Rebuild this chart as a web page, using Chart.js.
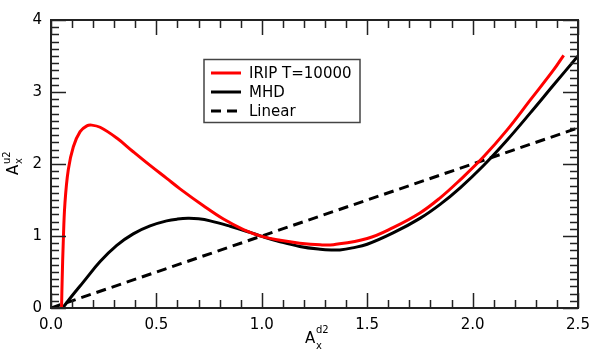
<!DOCTYPE html>
<html lang="en">
<head>
  <meta charset="UTF-8">
  <title>Ax u2 vs Ax d2</title>
  <style>
    html, body { margin: 0; padding: 0; background: #fff; }
    #wrap { width: 592px; height: 351px; }
  </style>
  <script src="https://cdn.jsdelivr.net/npm/chart.js@4.4.0/dist/chart.umd.min.js"></script>
</head>
<body>
  <div id="wrap"><canvas id="chart" width="592" height="351"></canvas></div>
  <script>
    // values
    const iripX = [0.05, 0.053, 0.058, 0.066, 0.082, 0.106, 0.138, 0.17, 0.193, 0.233, 0.312, 0.39, 0.47, 0.549, 0.612, 0.723, 0.818, 0.913, 1.0, 1.087, 1.18, 1.277, 1.34, 1.5, 1.625, 1.75, 1.846, 1.941, 2.052, 2.163, 2.274, 2.385, 2.432];
    const iripY = [0, 0.4, 0.9, 1.45, 1.92, 2.24, 2.45, 2.53, 2.54, 2.51, 2.36, 2.17, 1.98, 1.80, 1.655, 1.42, 1.235, 1.09, 0.995, 0.94, 0.90, 0.877, 0.88, 0.965, 1.12, 1.32, 1.53, 1.78, 2.10, 2.47, 2.89, 3.31, 3.51];
    const mhdX = [0.055, 0.1, 0.153, 0.233, 0.312, 0.39, 0.47, 0.549, 0.6, 0.65, 0.7, 0.755, 0.85, 0.944, 1.0, 1.087, 1.18, 1.277, 1.33, 1.37, 1.43, 1.5, 1.625, 1.75, 1.846, 1.941, 2.052, 2.163, 2.274, 2.385, 2.5];
    const mhdY = [0, 0.17, 0.36, 0.645, 0.87, 1.03, 1.14, 1.21, 1.235, 1.245, 1.238, 1.21, 1.135, 1.05, 0.995, 0.92, 0.855, 0.815, 0.805, 0.807, 0.835, 0.885, 1.046, 1.245, 1.44, 1.67, 1.98, 2.33, 2.71, 3.10, 3.50];
    const linX = [0, 2.5];
    const linY = [0, 2.5];
    const seriesNames = ['IRIP T=10000', 'MHD', 'Linear'];
    const xTickLabels = ['0.0', '0.5', '1.0', '1.5', '2.0', '2.5'];
    const yTickLabels = ['0', '1', '2', '3', '4'];

    const pts = (xs, ys) => xs.map((x, i) => ({ x: x, y: ys[i] }));
    const FONT = '"DejaVu Sans", sans-serif';

    // inside ticks on all four sides, frame, legend box and axis titles
    const decor = {
      id: 'decor',
      afterDraw(chart) {
        const ctx = chart.ctx;
        const a = chart.chartArea;
        const xs = chart.scales.x, ys = chart.scales.y;
        ctx.save();
        ctx.strokeStyle = '#222';
        ctx.lineWidth = 1.5;
        ctx.beginPath();
        for (let i = 0; i <= 25; i++) {
          const px = Math.round(xs.getPixelForValue(i / 10)) + 0.5;
          const len = i % 5 === 0 ? 15 : 8;
          ctx.moveTo(px, a.bottom); ctx.lineTo(px, a.bottom - len);
          ctx.moveTo(px, a.top); ctx.lineTo(px, a.top + len);
        }
        for (let i = 0; i <= 40; i++) {
          const py = Math.round(ys.getPixelForValue(i / 10)) + 0.5;
          const len = i % 10 === 0 ? 15 : 8;
          ctx.moveTo(a.left, py); ctx.lineTo(a.left + len, py);
          ctx.moveTo(a.right, py); ctx.lineTo(a.right - len, py);
        }
        ctx.stroke();
        ctx.lineWidth = 2;
        ctx.strokeRect(a.left, a.top, a.right - a.left, a.bottom - a.top);

        // legend
        ctx.lineWidth = 1.5;
        ctx.strokeStyle = '#444';
        ctx.strokeRect(204, 59.5, 156, 63);
        ctx.font = '15px ' + FONT;
        ctx.fillStyle = '#000';
        ctx.textBaseline = 'middle';
        const rows = [73, 92, 111];
        chart.data.datasets.forEach((ds, i) => {
          ctx.strokeStyle = ds.borderColor;
          ctx.lineWidth = 3;
          ctx.setLineDash(ds.borderDash || []);
          ctx.beginPath();
          ctx.moveTo(211, rows[i]); ctx.lineTo(241, rows[i]);
          ctx.stroke();
          ctx.setLineDash([]);
          ctx.fillText(ds.label, 249, rows[i] + 1);
        });

        // axis titles
        ctx.textBaseline = 'alphabetic';
        ctx.textAlign = 'left';
        ctx.font = '15px ' + FONT;
        ctx.fillText('A', 305, 343);
        ctx.font = '10px ' + FONT;
        ctx.fillText('d2', 316, 333);
        ctx.fillText('x', 316, 349);

        ctx.translate(18, 175);
        ctx.rotate(-Math.PI / 2);
        ctx.font = '15px ' + FONT;
        ctx.fillText('A', 0, 0);
        ctx.font = '10px ' + FONT;
        ctx.fillText('u2', 11, -8);
        ctx.fillText('x', 11, 4);
        ctx.restore();
      }
    };

    new Chart(document.getElementById('chart'), {
      type: 'scatter',
      data: {
        datasets: [
          { label: seriesNames[0], data: pts(iripX, iripY), borderColor: '#ff0000', borderWidth: 3,
            showLine: true, pointRadius: 0, tension: 0.4 },
          { label: seriesNames[1], data: pts(mhdX, mhdY), borderColor: '#000000', borderWidth: 3,
            showLine: true, pointRadius: 0, tension: 0.4 },
          { label: seriesNames[2], data: pts(linX, linY), borderColor: '#000000', borderWidth: 3,
            borderDash: [10, 6], showLine: true, pointRadius: 0 }
        ]
      },
      options: {
        responsive: false,
        animation: false,
        layout: { padding: { top: 20, right: 14, left: 0, bottom: 0 } },
        plugins: { legend: { display: false }, tooltip: { enabled: false } },
        scales: {
          x: {
            type: 'linear', min: 0, max: 2.5,
            border: { display: false },
            grid: { display: false, drawTicks: false },
            afterFit: s => { s.height = 43; s.paddingLeft = 0; s.paddingRight = 0; },
            afterBuildTicks: s => { s.ticks = xTickLabels.map(t => ({ value: parseFloat(t) })); },
            ticks: {
              padding: 8, color: '#000', font: { family: FONT, size: 15 },
              maxRotation: 0, autoSkip: false,
              callback: (v, i) => xTickLabels[i]
            }
          },
          y: {
            type: 'linear', min: 0, max: 4,
            border: { display: false },
            grid: { display: false, drawTicks: false },
            afterFit: s => { s.width = 51; s.paddingTop = 0; s.paddingBottom = 0; },
            afterBuildTicks: s => { s.ticks = yTickLabels.map(t => ({ value: parseFloat(t) })); },
            ticks: {
              padding: 9, color: '#000', font: { family: FONT, size: 15 },
              autoSkip: false,
              callback: (v, i) => yTickLabels[i]
            }
          }
        }
      },
      plugins: [decor]
    });
  </script>
</body>
</html>
